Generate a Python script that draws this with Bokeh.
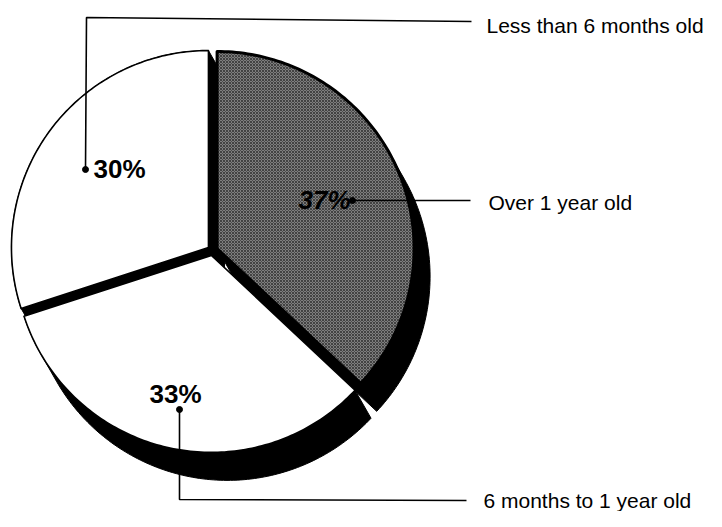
import numpy as np
from bokeh.plotting import figure
from bokeh.models import Range1d
from bokeh.embed import file_html
from bokeh.resources import INLINE
from bokeh.core.properties import value

# ---- data ----
categories = ["Over 1 year old", "6 months to 1 year old", "Less than 6 months old"]
shares = [37, 33, 30]
pct_labels = ["37%", "33%", "30%"]

# ---- layout / style ----
W, H = 706, 511
CX, CY, R = 212, 250, 197          # pie centre and radius (pixels)
EXPLODE = 5                          # slice separation
DEPTH = (16, 28)                     # 3-D extrusion vector (right, down)
FILLS = ["#7e7e7e", "white", "white"]
OUTLINE_W = [3, 1.6, 1.6]
HATCH = ["diagonal_cross", None, None]

# label layout (pixels)
pct_pos = [(298, 199, "bold italic"), (149, 393, "bold"), (93, 168, "bold")]
dot_pos = [(352, 200), (179, 409), (85, 169)]
leader_paths = [
    [(352, 200), (470, 200)],
    [(179, 409), (179, 499), (466, 500)],
    [(85, 169), (86, 17), (471, 21)],
]
label_pos = [(488, 202), (483, 500), (486, 25)]

p = figure(width=W, height=H, x_range=Range1d(0, W), y_range=Range1d(H, 0),
           output_backend="svg", toolbar_location=None, min_border=0,
           x_axis_location=None, y_axis_location=None)
p.grid.visible = False
p.outline_line_color = None
p.background_fill_color = "white"


def hull(pts):
    pts = sorted(set(map(tuple, np.round(pts, 4))))
    def cross(o, a, b):
        return (a[0] - o[0]) * (b[1] - o[1]) - (a[1] - o[1]) * (b[0] - o[0])
    lower, upper = [], []
    for q in pts:
        while len(lower) >= 2 and cross(lower[-2], lower[-1], q) <= 0:
            lower.pop()
        lower.append(q)
    for q in reversed(pts):
        while len(upper) >= 2 and cross(upper[-2], upper[-1], q) <= 0:
            upper.pop()
        upper.append(q)
    h = np.array(lower[:-1] + upper[:-1])
    return h[:, 0], h[:, 1]


fracs = np.array(shares, dtype=float) / sum(shares)
faces_x, faces_y, ext_x, ext_y = [], [], [], []
a = 90.0
for f in fracs:
    a1 = a - 360 * f
    mid = np.radians((a + a1) / 2)
    cx = CX + EXPLODE * np.cos(mid)
    cy = CY - EXPLODE * np.sin(mid)
    th = np.radians(np.linspace(a, a1, 120))
    xs = np.concatenate([[cx], cx + R * np.cos(th)])
    ys = np.concatenate([[cy], cy - R * np.sin(th)])
    faces_x.append(xs)
    faces_y.append(ys)
    pts = np.vstack([np.column_stack([xs, ys]),
                     np.column_stack([xs + DEPTH[0], ys + DEPTH[1]])])
    hx, hy = hull(pts)
    ext_x.append(hx)
    ext_y.append(hy)
    a = a1

# extrusions (black sides)
p.patches(ext_x, ext_y, fill_color="black", line_color="black", line_width=1)

# faces
for i in range(len(shares)):
    kw = {}
    if HATCH[i]:
        kw = dict(hatch_pattern=HATCH[i], hatch_color="black", hatch_scale=3,
                  hatch_weight=0.8, hatch_alpha=0.6)
    p.patch(faces_x[i], faces_y[i], fill_color=FILLS[i], line_color="black",
            line_width=OUTLINE_W[i], line_join="round", **kw)

# leaders
p.multi_line([[q[0] for q in path] for path in leader_paths],
             [[q[1] for q in path] for path in leader_paths],
             line_color="black", line_width=1.6)
p.scatter([d[0] for d in dot_pos], [d[1] for d in dot_pos], size=6,
          fill_color="black", line_color="black")

# percentage labels
for i, (x, y, style) in enumerate(pct_pos):
    p.text([x], [y], text=[pct_labels[i]], text_font=value("Liberation Sans"),
           text_font_size=value("26px"), text_font_style=value(style),
           text_color="black", text_align="left", text_baseline="middle")

# category labels
p.text([q[0] for q in label_pos], [q[1] for q in label_pos], text=categories,
       text_font=value("Liberation Sans"), text_font_size=value("21px"),
       text_font_style=value("normal"),
       text_color="black", text_align="left", text_baseline="middle")

open("out.html", "w").write(file_html(p, INLINE))
